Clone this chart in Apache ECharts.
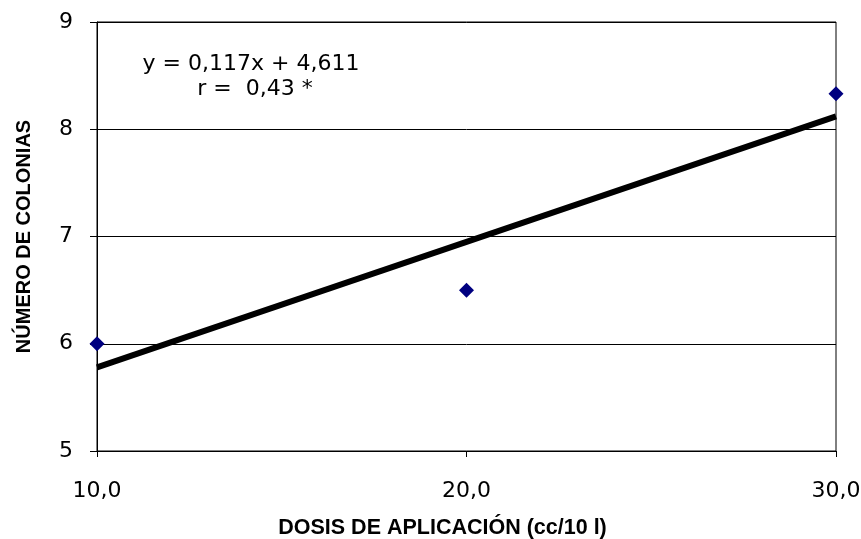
<!DOCTYPE html>
<html>
<head>
<meta charset="utf-8">
<script src="https://cdn.jsdelivr.net/npm/echarts@6/dist/echarts.min.js"></script>
<style>
  html, body { margin: 0; padding: 0; background: #fff; }
  #chart { width: 861px; height: 539px; }
</style>
</head>
<body>
<div id="chart"></div>
<script>
// dosis (cc/10 l) y número de colonias
var dosis = [10, 20, 30];
var colonias = [6.0, 6.5, 8.33];
// extremos de la recta de tendencia
var trendX = [10, 30];
var trendY = [5.78, 8.12];
var yTicks = [5, 6, 7, 8, 9];
var ecuacion = ['y = 0,117x + 4,611', 'r =  0,43 *'];

var chart = echarts.init(document.getElementById('chart'));
chart.setOption({
  backgroundColor: '#fff',
  animation: false,
  grid: {
    left: 97,
    right: 25,
    top: 22,
    bottom: 88,
    outerBoundsMode: 'none',
    show: true,
    borderColor: '#000',
    borderWidth: 1
  },
  xAxis: {
    type: 'value',
    min: 10,
    max: 30,
    interval: 10,
    name: 'DOSIS DE APLICACIÓN (cc/10 l)',
    nameLocation: 'middle',
    nameGap: 66,
    nameTextStyle: {
      fontFamily: 'Liberation Sans', fontSize: 21.5, fontWeight: 'bold', color: '#000',
      padding: [0, 48, 0, 0]
    },
    axisLine: { show: true, lineStyle: { color: '#000', width: 1 } },
    axisTick: { show: true, length: 6, lineStyle: { color: '#000' } },
    axisLabel: {
      fontFamily: 'DejaVu Sans', fontSize: 22, color: '#000', margin: 29,
      formatter: function (v) { return v.toFixed(1).replace('.', ','); }
    },
    splitLine: { show: false }
  },
  yAxis: {
    type: 'value',
    min: yTicks[0],
    max: yTicks[yTicks.length - 1],
    interval: 1,
    name: 'NÚMERO DE COLONIAS',
    nameLocation: 'middle',
    nameGap: 63,
    nameTextStyle: { fontFamily: 'Liberation Sans', fontSize: 20, fontWeight: 'bold', color: '#000' },
    axisLine: { show: true, lineStyle: { color: '#000', width: 1 } },
    axisTick: { show: true, length: 7, lineStyle: { color: '#000' } },
    axisLabel: { fontFamily: 'DejaVu Sans', fontSize: 22, color: '#000', margin: 24 },
    splitLine: { show: true, lineStyle: { color: '#000', width: 1 } }
  },
  graphic: [
    {
      type: 'text',
      x: 251,
      y: 64,
      style: {
        text: ecuacion[0],
        fontFamily: 'DejaVu Sans', fontSize: 22, fill: '#000',
        align: 'center', verticalAlign: 'middle'
      }
    },
    {
      type: 'text',
      x: 255,
      y: 89,
      style: {
        text: ecuacion[1],
        fontFamily: 'DejaVu Sans', fontSize: 22, fill: '#000',
        align: 'center', verticalAlign: 'middle'
      }
    }
  ],
  series: [
    {
      type: 'line',
      data: trendX.map(function (x, i) { return [x, trendY[i]]; }),
      symbol: 'none',
      lineStyle: { color: '#000', width: 6 },
      z: 2
    },
    {
      type: 'scatter',
      data: dosis.map(function (x, i) { return [x, colonias[i]]; }),
      symbol: 'diamond',
      symbolSize: [15, 15],
      itemStyle: { color: '#000080', opacity: 1 },
      clip: false,
      z: 3
    }
  ]
});
</script>
</body>
</html>
